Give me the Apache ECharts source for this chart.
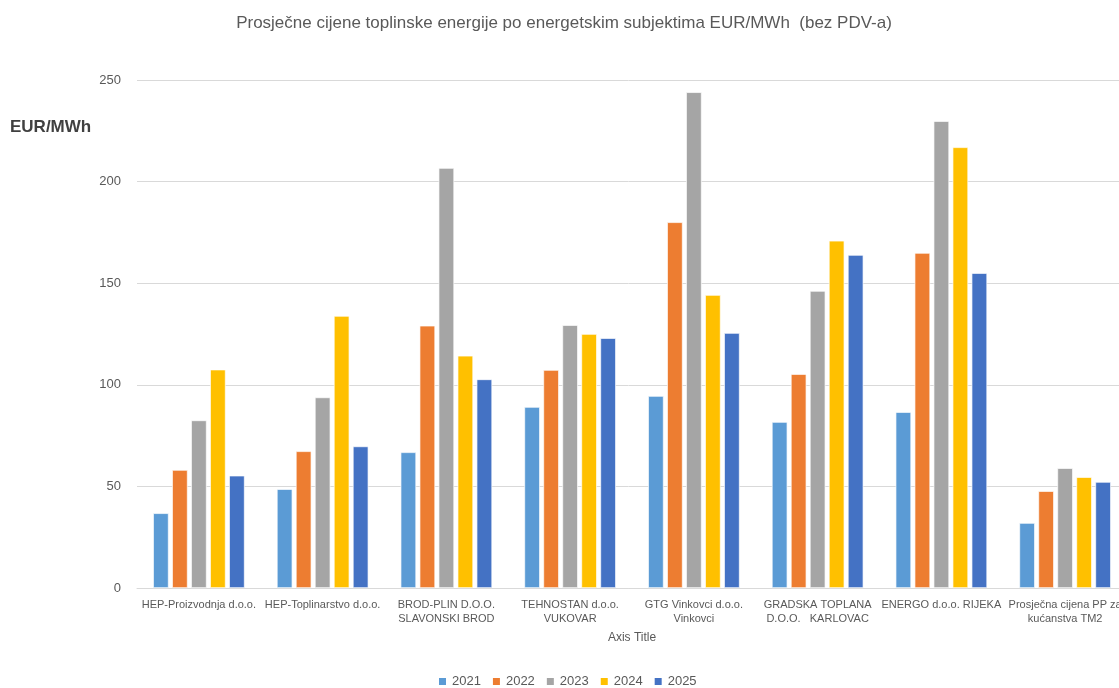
<!DOCTYPE html>
<html>
<head>
<meta charset="utf-8">
<script src="https://cdn.jsdelivr.net/npm/echarts@6/dist/echarts.min.js"></script>
<style>html,body{margin:0;padding:0;background:#fff}#c{width:1119px;height:688px}</style>
</head>
<body>
<div id="c"></div>
<script>
const categories = [
  'HEP-Proizvodnja d.o.o.',
  'HEP-Toplinarstvo d.o.o.',
  'BROD-PLIN D.O.O.\nSLAVONSKI BROD',
  'TEHNOSTAN d.o.o.\nVUKOVAR',
  'GTG Vinkovci d.o.o.\nVinkovci',
  'GRADSKA TOPLANA\nD.O.O.   KARLOVAC',
  'ENERGO d.o.o. RIJEKA',
  'Prosječna cijena PP za\nkućanstva TM2'
];
const years = ['2021', '2022', '2023', '2024', '2025'];
const v2021 = [36.8, 48.7, 66.8, 89.1, 94.5, 81.7, 86.6, 32.0];
const v2022 = [58.1, 67.3, 129.1, 107.3, 180.0, 105.3, 164.9, 47.7];
const v2023 = [82.5, 93.8, 206.7, 129.4, 244.0, 146.2, 229.8, 59.0];
const v2024 = [107.5, 133.9, 114.3, 125.0, 144.2, 170.9, 216.9, 54.6];
const v2025 = [55.3, 69.7, 102.7, 123.0, 125.5, 163.9, 155.0, 52.2];
const seriesValues = [v2021, v2022, v2023, v2024, v2025];
const colors = ['#5B9BD5', '#ED7D31', '#A5A5A5', '#FFC000', '#4472C4'];
const yTicks = [0, 50, 100, 150, 200, 250];

const chart = echarts.init(document.getElementById('c'), null, {renderer: 'canvas'});
const font = '"Liberation Sans", "DejaVu Sans", sans-serif';
chart.setOption({
  animation: false,
  textStyle: {fontFamily: font},
  title: [
    {text: 'Prosječne cijene toplinske energije po energetskim subjektima EUR/MWh  (bez PDV-a)',
     left: 559, top: 10, textAlign: 'center',
     textStyle: {fontSize: 17, fontWeight: 'normal', color: '#595959', fontFamily: font}},
    {text: 'EUR/MWh', left: 5, top: 114,
     textStyle: {fontSize: 17, fontWeight: 'bold', color: '#404040', fontFamily: font}}
  ],
  legend: {
    data: years, bottom: -5, left: 432, itemWidth: 9, itemHeight: 9, itemGap: 10,
    icon: 'rect', textStyle: {fontSize: 13, color: '#595959', fontFamily: font}
  },
  grid: {left: 137, width: 990, top: 80, bottom: 100, containLabel: false, outerBoundsMode: 'none'},
  xAxis: {
    type: 'category', data: categories,
    name: 'Axis Title', nameLocation: 'middle', nameGap: 44,
    nameTextStyle: {fontSize: 12, color: '#595959'},
    axisLine: {lineStyle: {color: '#D9D9D9'}},
    axisTick: {show: false},
    axisLabel: {fontSize: 11, color: '#595959', interval: 0, lineHeight: 14, margin: 10}
  },
  yAxis: {
    type: 'value', min: yTicks[0], max: yTicks[yTicks.length - 1], interval: 50,
    axisLine: {show: false}, axisTick: {show: false},
    axisLabel: {fontSize: 13, color: '#595959', margin: 16},
    splitLine: {lineStyle: {color: '#D9D9D9'}}
  },
  series: years.map((y, i) => ({
    name: y, type: 'bar', data: seriesValues[i],
    barGap: '22%', barCategoryGap: '26%',
    itemStyle: {color: colors[i], borderColor: '#fff', borderWidth: 0.7}
  }))
});
</script>
</body>
</html>
